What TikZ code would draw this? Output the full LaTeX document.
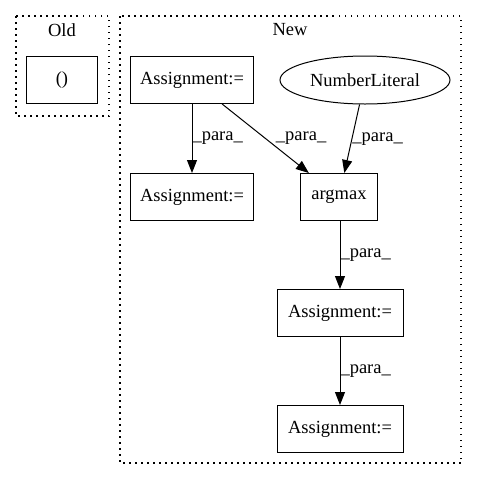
\documentclass[tikz,border=0pt]{standalone}
\usepackage{fontspec}
\setmainfont{Liberation Serif}
\usepackage{tikz}
\usetikzlibrary{arrows.meta,shapes.geometric}

\tikzset{
  box/.style={draw, line width=1pt, minimum height=47pt, inner sep=0pt},
  oval/.style={draw, ellipse, line width=1pt, minimum width=170pt, minimum height=48pt, inner sep=0pt},
  cluster/.style={draw, line width=1.2pt, dash pattern=on 1.5pt off 4.5pt},
  para/.style={-{Triangle[length=13pt,width=10pt]}, line width=1pt},
  lbl/.style={anchor=west, inner sep=0pt}
}

\begin{document}
\begin{tikzpicture}[x=1pt, y=-1pt, font=\fontsize{18.5pt}{22pt}\selectfont]
        \useasboundingbox (0,0) rectangle (477,480);
        \draw [cluster] (16,16)  rectangle (109,116);                    %Old
        \node (oldlbl) at (62,30)   {Old};                               %
        \draw [cluster] (120,16) rectangle (461,463);                    %New
        \node (newlbl) at (290,30)  {New};                               %

        \node [box, minimum width=71pt]  (paren)  at (62,80)   {()};     %
        \node [box, minimum width=123pt] (asgA)   at (192,80)  {Assignment:=};
        \node [oval]                     (numlit) at (365,80)  {NumberLiteral};
        \node [box, minimum width=123pt] (asgB)   at (192,197) {Assignment:=};
        \node [box, minimum width=77pt]  (argmax) at (339,197) {argmax}; %
        \node [box, minimum width=126pt] (asgC)   at (340,313) {Assignment:=};
        \node [box, minimum width=126pt] (asgD)   at (340,429) {Assignment:=};

        \draw [para] (asgA)   -- node [lbl]              {\_para\_} (asgB);
        \draw [para] (asgA)   -- node [lbl, xshift=10pt] {\_para\_} (argmax);
        \draw [para] (numlit) -- node [lbl]              {\_para\_} (argmax);
        \draw [para] (argmax.south -| asgC) -- node [lbl] {\_para\_} (asgC);
        \draw [para] (asgC)   -- node [lbl]              {\_para\_} (asgD);
\end{tikzpicture}
\end{document}
